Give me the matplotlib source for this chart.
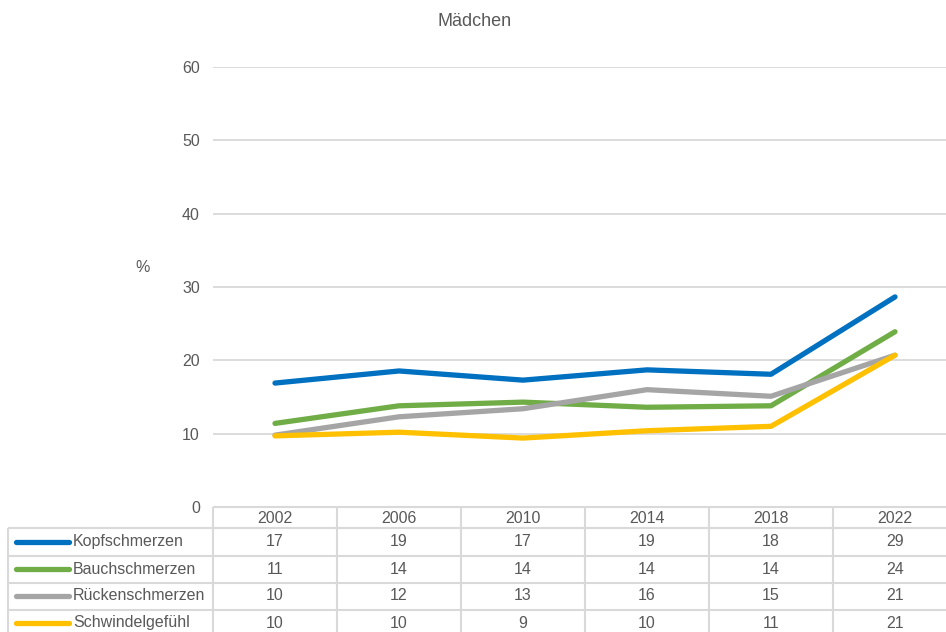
import numpy as np
import matplotlib.pyplot as plt
from matplotlib.lines import Line2D

plt.rcParams['font.family'] = ['Liberation Sans', 'DejaVu Sans']

years = ['2002', '2006', '2010', '2014', '2018', '2022']
series = ['Kopfschmerzen', 'Bauchschmerzen', 'Rückenschmerzen', 'Schwindelgefühl']
kopf = [16.9, 18.55, 17.3, 18.7, 18.1, 28.65]
bauch = [11.4, 13.8, 14.3, 13.6, 13.8, 23.9]
ruecken = [9.8, 12.3, 13.4, 16.0, 15.1, 20.7]
schwindel = [9.7, 10.2, 9.4, 10.4, 11.0, 20.7]
colors = ['#0070C0', '#70AD47', '#A5A5A5', '#FFC000']

values = [kopf, bauch, ruecken, schwindel]
txt = '#595959'
grid = '#D9D9D9'
fs = 11.5
W, H = 946, 632

fig = plt.figure(figsize=(W / 100, H / 100), dpi=100)

# plot area in pixels: x 213..957, y 67..507
ax = fig.add_axes([213 / W, (H - 507) / H, (957 - 213) / W, (507 - 67) / H])
x = np.arange(len(years))
for vals, c in zip(values, colors):
    ax.plot(x, vals, color=c, lw=3.8, solid_capstyle='round', solid_joinstyle='round')
ax.set_xlim(-0.5, len(years) - 0.5)
ax.set_ylim(0, 60)
ax.set_yticks(range(0, 61, 10))
ax.yaxis.grid(True, color=grid, lw=1.3)
ax.set_axisbelow(True)
ax.tick_params(axis='y', length=0, pad=9.5, labelcolor=txt, labelsize=fs)
ax.tick_params(axis='x', length=0, labelbottom=False)
for s in ax.spines.values():
    s.set_visible(False)
fig.text(143 / W, 1 - 268 / H, '%', color=txt, fontsize=fs, ha='center', va='center')
fig.text(475 / W, 1 - 22 / H, 'Mädchen', color=txt, fontsize=13, ha='center', va='center')

# data table below the plot, drawn in pixel coordinates
tb = fig.add_axes([0, 0, 1, 1], facecolor='none')
tb.set_xlim(0, W)
tb.set_ylim(H, 0)
tb.axis('off')
col_w = (957 - 213) / len(years)
rows_y = [507, 528, 555.5, 582.5, 609.5, 636.5]
lk = dict(color=grid, lw=1.5, solid_capstyle='butt')
# horizontal lines
tb.plot([213, 957], [rows_y[0]] * 2, **lk)
for yy in rows_y[1:]:
    tb.plot([8, 957], [yy] * 2, **lk)
# vertical lines
tb.plot([8, 8], [rows_y[1], rows_y[-1]], **lk)
for i in range(len(years) + 1):
    xx = 213 + i * col_w
    tb.plot([xx, xx], [rows_y[0], rows_y[-1]], **lk)
# header
for i, yr in enumerate(years):
    tb.text(213 + (i + 0.5) * col_w, (rows_y[0] + rows_y[1]) / 2 + 1, yr,
            ha='center', va='center', color=txt, fontsize=fs)
# rows
for r, (name, vals, c) in enumerate(zip(series, values, colors)):
    yc = (rows_y[r + 1] + rows_y[r + 2]) / 2
    tb.add_line(Line2D([16, 69], [yc, yc], color=c, lw=3.8, solid_capstyle='round'))
    tb.text(73, yc, name, ha='left', va='center', color=txt, fontsize=fs)
    for i, v in enumerate(vals):
        tb.text(213 + (i + 0.5) * col_w, yc, f'{v:.0f}',
                ha='center', va='center', color=txt, fontsize=fs)

fig.savefig('out.png', dpi=100)
